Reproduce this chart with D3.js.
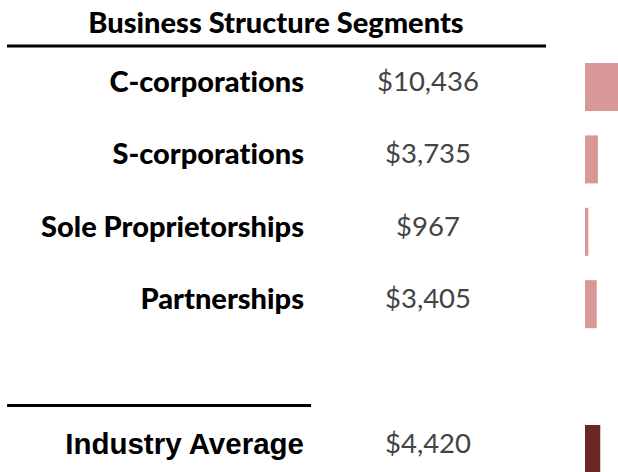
<!DOCTYPE html>
<html>
<head>
<meta charset="utf-8">
<script src="https://cdn.jsdelivr.net/npm/d3@7/dist/d3.min.js"></script>
<style>
  html, body { margin: 0; padding: 0; background: #fff; overflow: hidden; }
  svg { display: block; }
  text { font-variant-ligatures: none; font-feature-settings: "liga" 0; }
</style>
</head>
<body>
<div id="chart"></div>
<script>
// Revenue per business structure segment
const segments = ["C-corporations", "S-corporations", "Sole Proprietorships", "Partnerships"];
const segmentValues = [10436, 3735, 967, 3405];
const averageLabel = "Industry Average";
const averageValue = 4420;
const title = "Business Structure Segments";

const W = 618, H = 472;
const svg = d3.select("#chart").append("svg").attr("width", W).attr("height", H);

// Row slots: four segments, a blank spacer, then the average row
const slots = [...segments, "__gap", averageLabel];
const y = d3.scaleBand().domain(slots).range([63, 473]).paddingInner(0.337).paddingOuter(0);

const x = d3.scaleLinear().domain([0, 10436]).range([585, 621]);
const fmt = v => "$" + d3.format(",")(v);

// Title and rules
svg.append("text")
  .attr("x", 276).attr("y", 33)
  .attr("text-anchor", "middle")
  .style("font-family", "Lato, sans-serif").style("font-weight", 900).style("font-size", "29px")
  .attr("fill", "#000").text(title);
svg.append("line").attr("x1", 7).attr("x2", 546).attr("y1", 46).attr("y2", 46)
  .attr("stroke", "#000").attr("stroke-width", 3);
svg.append("line").attr("x1", 7).attr("x2", 311).attr("y1", 405.5).attr("y2", 405.5)
  .attr("stroke", "#000").attr("stroke-width", 3);

const rows = segments.map((s, i) => ({ label: s, value: segmentValues[i], avg: false }))
  .concat([{ label: averageLabel, value: averageValue, avg: true }]);

const g = svg.selectAll("g.row").data(rows).join("g").attr("class", "row");

g.append("text")
  .attr("x", 304)
  .attr("y", d => y(d.label) + y.bandwidth() / 2 + 5)
  .attr("text-anchor", "end")
  .style("font-family", d => d.avg ? "'Liberation Sans', Arial, sans-serif" : "Lato, sans-serif")
  .style("font-weight", d => d.avg ? 700 : 900)
  .style("font-size", d => d.avg ? "29.5px" : "29px")
  .attr("fill", "#000")
  .text(d => d.label);

g.append("text")
  .attr("x", 428)
  .attr("y", d => y(d.label) + y.bandwidth() / 2 + 4)
  .attr("text-anchor", "middle")
  .style("font-family", "Lato, sans-serif").style("font-weight", 400).style("font-size", "27.5px")
  .attr("fill", "#444")
  .text(d => fmt(d.value));

g.append("rect")
  .attr("x", x(0))
  .attr("y", d => y(d.label))
  .attr("width", d => x(d.value) - x(0))
  .attr("height", y.bandwidth())
  .attr("fill", d => d.avg ? "#6b2626" : "#da9797");
</script>
</body>
</html>
